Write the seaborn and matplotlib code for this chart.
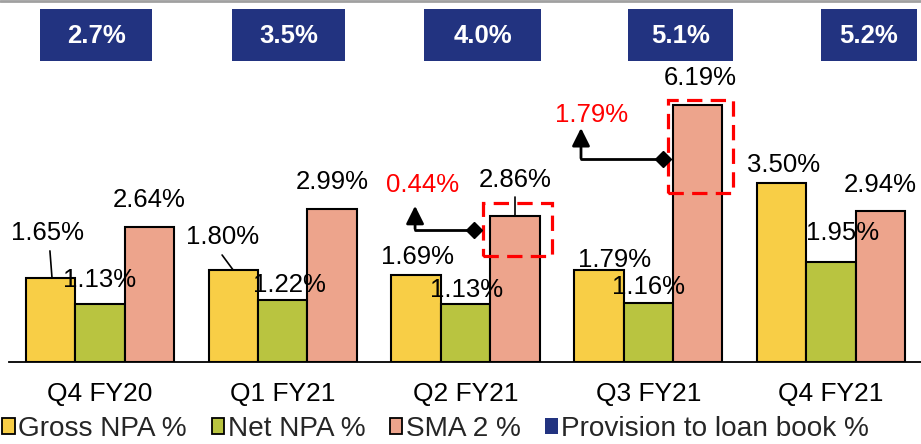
import matplotlib
matplotlib.use("Agg")
import matplotlib.pyplot as plt
from matplotlib.patches import Patch, Rectangle
from matplotlib.lines import Line2D
import seaborn as sns
import pandas as pd

quarters = ["Q4 FY20", "Q1 FY21", "Q2 FY21", "Q3 FY21", "Q4 FY21"]
series = ["Gross NPA %", "Net NPA %", "SMA 2 %"]
gross_npa = [1.65, 1.80, 1.69, 1.79, 3.50]
net_npa = [1.13, 1.22, 1.13, 1.16, 1.95]
sma2 = [2.64, 2.99, 2.86, 6.19, 2.94]
# the 6.19% bar is cut short in the source slide; this is the height as drawn
sma2_drawn = [2.64, 2.99, 2.86, 5.02, 2.94]
provision = [2.7, 3.5, 4.0, 5.1, 5.2]
# red call-outs next to the boxed SMA 2 bars (quarter index -> value)
callout_quarter = [2, 3]
callout_value = [0.44, 1.79]

colors = {"Gross NPA %": "#F8CE46", "Net NPA %": "#B9C440", "SMA 2 %": "#EDA48C"}
blue = "#223380"
red = "#FF0000"

# label centres in data coords (x = category position, y = %)
gross_pos = [(-0.285, 2.52), (0.673, 2.44), (1.735, 2.05), (2.818, 1.99), (3.743, 3.85)]
net_pos = [(0.0, 1.60), (1.034, 1.50), (2.008, 1.41), (2.999, 1.46), (4.066, 2.52)]
sma_pos = [(0.268, 3.16), (1.27, 3.52), (2.271, 3.55), (3.283, 5.55), (4.268, 3.46)]

W, H = 921, 444
df = pd.DataFrame({
    "quarter": quarters * 3,
    "series": [s for s in series for _ in quarters],
    "value": gross_npa + net_npa + sma2_drawn,
})

sns.set_theme(style="white")
plt.rcParams["font.family"] = ["Liberation Sans", "DejaVu Sans"]

fig = plt.figure(figsize=(W / 100, H / 100), dpi=100)
ax = fig.add_axes([9 / W, 82 / H, (W - 9) / W, 362 / H])

sns.barplot(data=df, x="quarter", y="value", hue="series", order=quarters,
            hue_order=series, palette=colors, width=0.81, saturation=1,
            edgecolor="black", linewidth=1.5, errorbar=None, legend=False, ax=ax)

ax.set_xlim((9 - 100) / 182.75, (W - 100) / 182.75)
ax.set_ylim(0, 362 / 51.2)
ax.set_xlabel("")
ax.set_ylabel("")
ax.set_yticks([])
for s in ["top", "left", "right"]:
    ax.spines[s].set_visible(False)
ax.spines["bottom"].set_color("black")
ax.spines["bottom"].set_linewidth(1.3)
ax.tick_params(axis="x", length=0, pad=14.5, labelsize=19, colors="black")

fs = 18.5
for vals, pos in [(gross_npa, gross_pos), (net_npa, net_pos), (sma2, sma_pos)]:
    for v, (x, y) in zip(vals, pos):
        ax.text(x, y, f"{v:.2f}%", ha="center", va="center", fontsize=fs, color="black")

# leader lines
ax.plot([-0.274, -0.263], [2.17, 1.66], color="black", lw=1.2)
ax.plot([0.668, 0.728], [2.09, 1.80], color="black", lw=1.2)
ax.plot([2.271, 2.271], [3.22, 2.87], color="black", lw=1.2)

# red dashed boxes around the SMA 2 bars
for (x0, x1, y0, y1) in [(2.096, 2.473, 2.07, 3.11), (3.108, 3.464, 3.30, 5.12)]:
    ax.add_patch(Rectangle((x0, y0), x1 - x0, y1 - y0, fill=False, edgecolor=red,
                           lw=2.3, linestyle=(0, (4.8, 2.6)), zorder=5))

# elbow arrows to the red call-outs
arrows = [((2.046, 2.58), 1.724, 3.05, (1.767, 3.46)),
          ((3.081, 3.96), 2.632, 4.57, (2.692, 4.82))]
for q, v, (start, xc, ytip, tpos) in zip(callout_quarter, callout_value, arrows):
    ax.plot([start[0], xc], [start[1], start[1]], color="black", lw=2, zorder=6)
    ax.plot(start[0], start[1], marker="D", ms=8, color="black", zorder=6)
    ax.annotate("", xy=(xc, ytip), xytext=(xc, start[1] + 0.02),
                arrowprops=dict(arrowstyle="-|>", mutation_scale=27, lw=2,
                                color="black", shrinkA=0, shrinkB=0), zorder=6)
    ax.text(tpos[0], tpos[1], f"{v:.2f}%", ha="center", va="center",
            fontsize=fs, color=red)

# provision boxes along the top
box_x = [(40, 152), (232, 345), (424, 541), (628, 733), (821, 917)]
for v, (x0, x1) in zip(provision, box_x):
    fig.add_artist(Rectangle((x0 / W, 1 - 61 / H), (x1 - x0) / W, 52 / H,
                             transform=fig.transFigure, facecolor=blue, edgecolor="none"))
    fig.text((x0 + x1) / 2 / W, 1 - 36 / H, f"{v:.1f}%", ha="center", va="center",
             fontsize=18.5, fontweight="bold", color="white")

fig.add_artist(Line2D([0, 1], [1 - 1 / H, 1 - 1 / H], transform=fig.transFigure,
                      color="#A0A0A0", lw=2))

handles = [Patch(facecolor=colors[s], edgecolor="black", linewidth=1.3) for s in series]
handles.append(Patch(facecolor=blue, edgecolor="none"))
fig.legend(handles, series + ["Provision to loan book %"], loc="lower left",
           bbox_to_anchor=(0.0, 0.0), ncol=4, frameon=False, fontsize=20.2,
           handlelength=0.45, handleheight=0.5, handletextpad=0.12,
           columnspacing=0.88, borderpad=0.08, borderaxespad=0)

fig.savefig("out.png", dpi=100)
